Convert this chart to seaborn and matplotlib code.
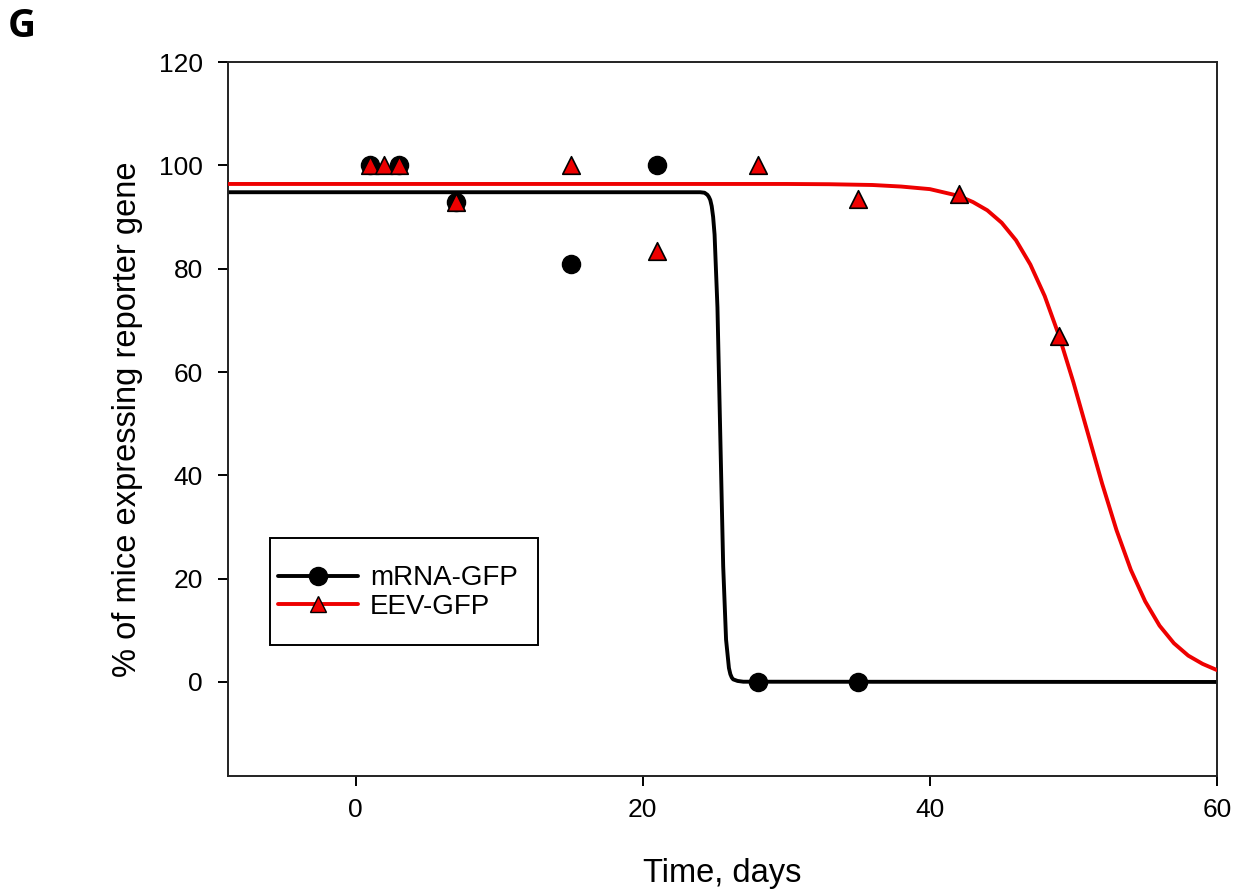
import matplotlib
matplotlib.use("Agg")
import matplotlib.pyplot as plt
from matplotlib.lines import Line2D
from matplotlib.patches import Rectangle
import seaborn as sns

mrna_days = [1, 3, 7, 15, 21, 28, 35]
mrna_pct = [100, 100, 93, 81, 100, 0, 0]

eev_days = [1, 2, 3, 7, 15, 21, 28, 35, 42, 49]
eev_pct = [100, 100, 100, 93, 100, 83.5, 100, 93.5, 94.5, 67]

# 적합 곡선 (그림에서 읽은 점)
mrna_fit_x = [-9, 24.0, 24.3, 24.5, 24.6, 24.7, 24.8, 24.9, 25.0, 25.2, 25.4, 25.6,
              25.8, 26.0, 26.1, 26.2, 26.3, 26.6, 27.0, 60]
mrna_fit_y = [94.8, 94.8, 94.7, 94.3, 93.9, 93.3, 92.1, 90.0, 86.6, 72.5, 47.4, 22.4,
              8.2, 2.7, 1.5, 0.85, 0.5, 0.2, 0.05, 0]

eev_fit_x = [-9, 30, 33, 36, 38, 40, 42, 43, 44, 45, 46, 47, 48, 49, 50, 51, 52, 53,
             54, 55, 56, 57, 58, 59, 60]
eev_fit_y = [96.4, 96.4, 96.35, 96.2, 95.9, 95.4, 94.1, 92.9, 91.3, 88.9, 85.5, 80.8,
             74.7, 67.0, 58.0, 48.2, 38.4, 29.4, 21.7, 15.6, 10.9, 7.5, 5.1, 3.5, 2.3]

series_labels = ["mRNA-GFP", "EEV-GFP"]
x_ticks = [0, 20, 40, 60]
y_ticks = [0, 20, 40, 60, 80, 100, 120]

RED = "#ee0000"

sns.set_theme(style="ticks")
plt.rcParams["font.family"] = ["Liberation Sans", "DejaVu Sans"]
plt.rcParams["text.color"] = "black"
plt.rcParams["axes.labelcolor"] = "black"

fig = plt.figure(figsize=(12.37, 8.94), dpi=100)
ax = fig.add_axes([0.1843, 0.132, 0.7995, 0.7986])

sns.lineplot(x=mrna_fit_x, y=mrna_fit_y, color="black", lw=2.8, ax=ax, zorder=2)
sns.lineplot(x=eev_fit_x, y=eev_fit_y, color=RED, lw=2.8, ax=ax, zorder=3)
sns.scatterplot(x=mrna_days, y=mrna_pct, marker="o", s=170, color="black",
                edgecolor="black", linewidth=1, ax=ax, zorder=4)
sns.scatterplot(x=eev_days, y=eev_pct, marker="^", s=160, color=RED,
                edgecolor="black", linewidth=1.2, ax=ax, zorder=5)

ax.set_xlim(-8.9, 60)
ax.set_ylim(-18.2, 120)
ax.set_xticks(x_ticks)
ax.set_yticks(y_ticks)
ax.tick_params(axis="both", labelsize=19, length=7, width=1.4, direction="out",
               colors="black")
ax.tick_params(axis="x", pad=9)
ax.tick_params(axis="y", pad=11)
for spine in ax.spines.values():
    spine.set_visible(True)
    spine.set_linewidth(1.4)
    spine.set_color("#222222")

ax.set_xlabel("Time, days", fontsize=23.5, color="black")
ax.set_ylabel("% of mice expressing reporter gene", fontsize=23.5, color="black")
ax.xaxis.set_label_coords(0.5, -0.115)
ax.yaxis.set_label_coords(-0.086, 0.5)

# 범례 테두리
ax.add_patch(Rectangle((0.0425, 0.1835), 0.2709, 0.1498, transform=ax.transAxes,
                       fill=False, edgecolor="black", lw=1.4, zorder=6))
handles = [
    Line2D([], [], color="black", lw=2.8, marker="o", markersize=13,
           markerfacecolor="black", markeredgecolor="black"),
    Line2D([], [], color=RED, lw=2.8, marker="^", markersize=12,
           markerfacecolor=RED, markeredgecolor="black"),
]
leg = ax.legend(handles, series_labels, loc="upper left",
                bbox_to_anchor=(0.0506, 0.295), fontsize=20, frameon=False,
                borderpad=0, borderaxespad=0, handlelength=2.88,
                labelspacing=0.1, handletextpad=0.43)
for txt in leg.get_texts():
    txt.set_color("black")

fig.text(0.0065, 1 - 37 / 894, "G", fontsize=28, fontweight="bold", color="black",
         family=["Open Sans", "DejaVu Sans"], va="baseline")

fig.savefig("out.png", dpi=100)
plt.close(fig)
